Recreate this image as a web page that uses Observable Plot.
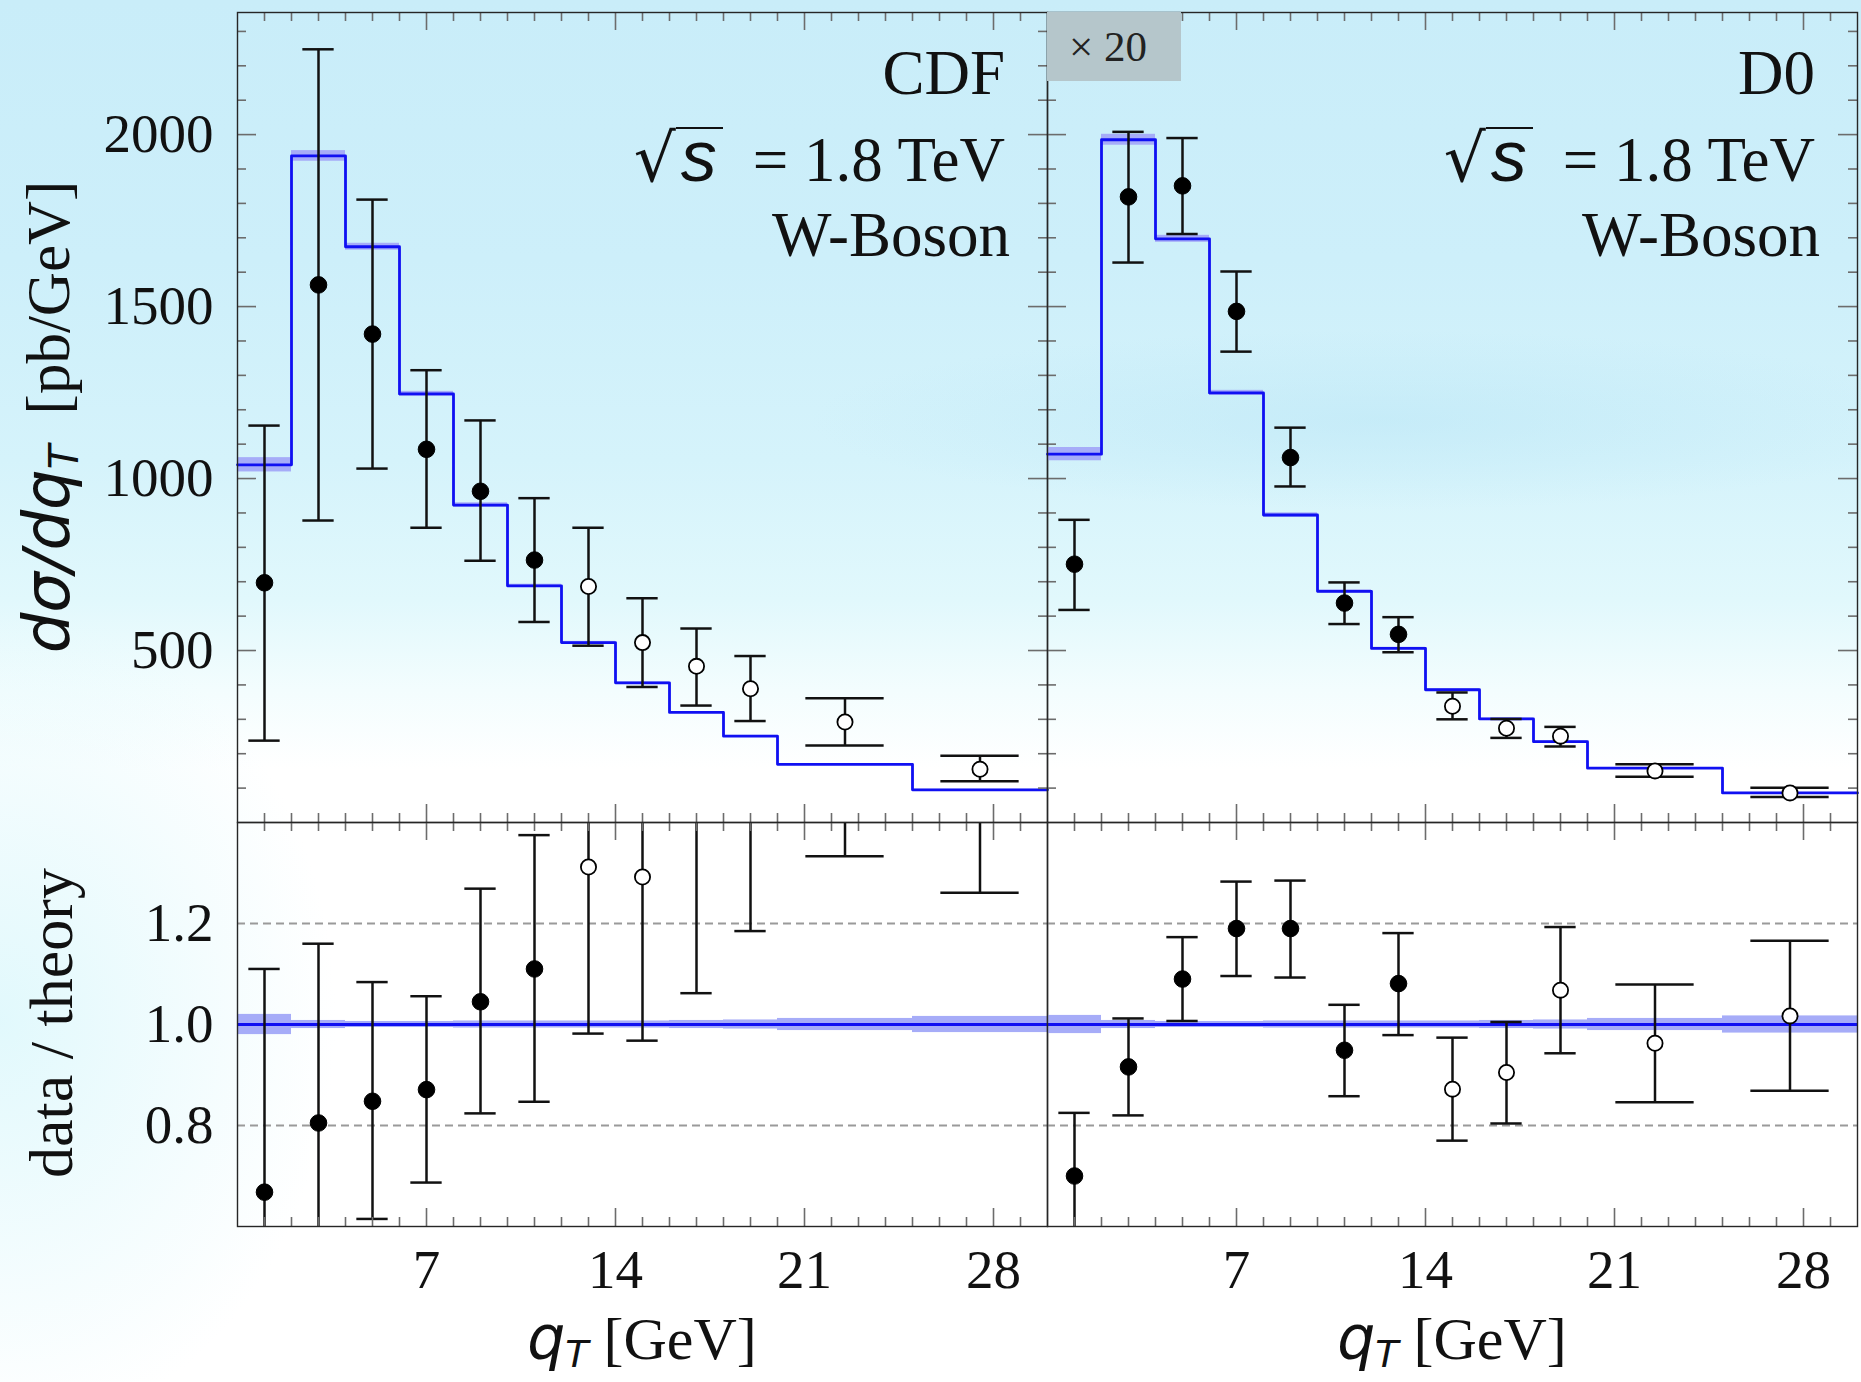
<!DOCTYPE html>
<html><head><meta charset="utf-8">
<script src="https://cdn.jsdelivr.net/npm/d3@7"></script>
<script src="https://cdn.jsdelivr.net/npm/@observablehq/plot@0.6"></script>
<style>
html,body{margin:0;padding:0;background:#fff;}
#page{position:relative;width:1861px;height:1382px;overflow:hidden;
 background:
  radial-gradient(ellipse 760px 120px at 1380px 420px, rgba(182,228,245,0.45), rgba(182,228,245,0) 75%),
  radial-gradient(ellipse 420px 520px at 0px 1020px, rgba(222,248,252,0.9), rgba(222,248,252,0) 80%),
  linear-gradient(180deg, #c9edf9 0px, #cdeffa 260px, #d5f3fb 460px, #e1f8fc 600px, #f3fdfe 690px, #ffffff 770px);}
#page svg{position:absolute;overflow:visible;}
.t{position:absolute;font-family:"Liberation Serif",serif;color:#111;white-space:nowrap;line-height:1;}
.rad{font-family:"DejaVu Sans";font-size:66px;line-height:0;}
.sbar{display:inline-block;font-family:"Liberation Sans";font-style:italic;font-size:72px;line-height:54px;border-top:2.4px solid #111;padding:0 6px 0 5px;margin-right:30px;}
.it{font-family:"DejaVu Sans";font-style:italic;line-height:0;}
.sub{font-family:"DejaVu Sans";font-style:italic;font-size:0.62em;position:relative;top:0.22em;line-height:0;}
</style></head><body><div id="page"></div>
<script>
// ---- bins (q_T in GeV) ----
const binLo = [0, 2, 4, 6, 8, 10, 12, 14, 16, 18, 20, 25];
const binHi = [2, 4, 6, 8, 10, 12, 14, 16, 18, 20, 25, 30];
const qT    = [1, 3, 5, 7, 9, 11, 13, 15, 17, 19, 22.5, 27.5];

// ---- CDF (pb/GeV) ----
const cdfTheory = [1040, 1938, 1674, 1246, 923, 688, 523, 406, 320, 251, 169, 95];
const cdfBand   = [0.020, 0.008, 0.006, 0.006, 0.007, 0.007, 0.007, 0.007, 0.008, 0.009, 0.012, 0.016];
const cdfValue  = [697, 1563, 1420, 1085, 963, 763, 686, 523, 454, 389, 292, 155];
const cdfErrHi  = [1154, 2248, 1811, 1315, 1169, 943, 857, 652, 564, 484, 361, 194];
const cdfErrLo  = [238, 878, 1029, 857, 761, 583, 514, 394, 340, 295, 224, 120];
const cdfOpen   = [0, 0, 0, 0, 0, 0, 1, 1, 1, 1, 1, 1];
const cdfRatio   = [0.668, 0.805, 0.848, 0.871, 1.045, 1.110, 1.312, 1.292, 1.42, 1.55, 1.73, 1.63];
const cdfRatioHi = [1.110, 1.160, 1.084, 1.056, 1.269, 1.375, 1.64, 1.61, 1.76, 1.93, 2.14, 2.04];
const cdfRatioLo = [0.23, 0.45, 0.615, 0.687, 0.824, 0.847, 0.982, 0.968, 1.062, 1.185, 1.333, 1.261];

// ---- D0 (pb/GeV, x 20) ----
const d0Theory = [1071, 1985, 1697, 1249, 894, 672, 506, 386, 301, 235, 158, 86];
const d0Band   = [0.018, 0.008, 0.006, 0.006, 0.007, 0.007, 0.007, 0.007, 0.008, 0.009, 0.012, 0.017];
const d0Value  = [751, 1819, 1851, 1486, 1061, 638, 547, 338, 274, 251, 150, 86];
const d0ErrHi  = [880, 2008, 1990, 1602, 1148, 698, 597, 378, 301, 278, 169, 101];
const d0ErrLo  = [618, 1628, 1711, 1369, 977, 577, 495, 300, 246, 221, 133, 74];
const d0Open   = [0, 0, 0, 0, 0, 0, 0, 1, 1, 1, 1, 1];
const d0Ratio   = [0.700, 0.916, 1.090, 1.190, 1.190, 0.949, 1.081, 0.872, 0.905, 1.068, 0.963, 1.017];
const d0RatioHi = [0.825, 1.012, 1.173, 1.283, 1.285, 1.039, 1.181, 0.974, 1.005, 1.193, 1.079, 1.166];
const d0RatioLo = [0.58, 0.820, 1.007, 1.096, 1.093, 0.858, 0.979, 0.770, 0.804, 0.943, 0.846, 0.869];

// ---- ticks ----
const xTickMajor  = [7, 14, 21, 28];
const xTickLabels = ["7", "14", "21", "28"];
const xTickMinor  = [1,2,3,4,5,6,8,9,10,11,12,13,15,16,17,18,19,20,22,23,24,25,26,27,29];
const yTickMajor  = [500, 1000, 1500, 2000];
const yTickLabels = ["500", "1000", "1500", "2000"];
const yTickMinor  = [100,200,300,400,600,700,800,900,1100,1200,1300,1400,1600,1700,1800,1900,2100,2200,2300];
const rTicks      = [0.8, 1.0, 1.2];
const rTickLabels = ["0.8", "1.0", "1.2"];
const rDashed     = [0.8, 1.2];

const BLUE = "#1010f2", BAND = "#a6acf8", TICK = "#6c6c6c";

function rows(theory, band, value, hi, lo, open) {
  return qT.map((x, i) => ({x, lo: binLo[i], hi: binHi[i], th: theory[i], b: band[i],
    v: value[i], eHi: hi[i], eLo: lo[i], open: !!open[i], cap: 0.29 * (binHi[i] - binLo[i])}));
}

function panel(o) {
  const fw = o.width - o.mL - o.mR, fh = o.height - o.mT - o.mB;
  const d = o.data, marks = [];
  if (o.ratio) {
    marks.push(Plot.rect(d, {x1: "lo", x2: "hi", y1: r => 1 - r.b, y2: r => 1 + r.b, fill: BAND}));
    marks.push(Plot.ruleY(rDashed, {stroke: "#9a9a9a", strokeWidth: 2, strokeDasharray: "8,5"}));
    marks.push(Plot.ruleY([1], {stroke: BLUE, strokeWidth: 2.8}));
  } else {
    marks.push(Plot.rect(d, {x1: "lo", x2: "hi", y1: r => r.th * (1 - r.b), y2: r => r.th * (1 + r.b), fill: BAND}));
    const steps = d.flatMap(r => [{x: r.lo, y: r.th}, {x: r.hi, y: r.th}]);
    marks.push(Plot.line(steps, {x: "x", y: "y", stroke: BLUE, strokeWidth: 2.8}));
  }
  const es = {stroke: "#111", strokeWidth: 2.5, clip: true};
  marks.push(Plot.ruleX(d, {x: "x", y1: "eLo", y2: "eHi", ...es}));
  marks.push(Plot.ruleY(d, {y: "eHi", x1: r => r.x - r.cap, x2: r => r.x + r.cap, ...es}));
  marks.push(Plot.ruleY(d, {y: "eLo", x1: r => r.x - r.cap, x2: r => r.x + r.cap, ...es}));
  marks.push(Plot.dot(d.filter(r => !r.open), {x: "x", y: "v", r: 8.3, fill: "#000", stroke: "#000", strokeWidth: 1, clip: true}));
  marks.push(Plot.dot(d.filter(r => r.open), {x: "x", y: "v", r: 7.6, fill: "#fff", stroke: "#000", strokeWidth: 1.8, clip: true}));
  const s = {stroke: TICK, strokeWidth: 1.6};
  marks.push(Plot.tickX(xTickMinor, {x: v => v, insetBottom: fh - 9, ...s}));
  marks.push(Plot.tickX(xTickMinor, {x: v => v, insetTop: fh - 9, ...s}));
  marks.push(Plot.tickX(xTickMajor, {x: v => v, insetBottom: fh - 18, ...s}));
  marks.push(Plot.tickX(xTickMajor, {x: v => v, insetTop: fh - 18, ...s}));
  if (!o.ratio) {
    marks.push(Plot.tickY(yTickMinor, {y: v => v, insetRight: fw - 9, ...s}));
    marks.push(Plot.tickY(yTickMinor, {y: v => v, insetLeft: fw - 9, ...s}));
    marks.push(Plot.tickY(yTickMajor, {y: v => v, insetRight: fw - 19, ...s}));
    marks.push(Plot.tickY(yTickMajor, {y: v => v, insetLeft: fw - 19, ...s}));
  }
  marks.push(Plot.frame({stroke: "#262626", strokeWidth: 1.4}));
  if (o.showY) {
    const t = o.ratio ? rTicks : yTickMajor, l = o.ratio ? rTickLabels : yTickLabels;
    marks.push(Plot.axisY({ticks: t, tickFormat: v => l[t.indexOf(v)], tickSize: 0, tickPadding: 24, label: null, fontSize: 55}));
  }
  if (o.showX) {
    marks.push(Plot.axisX({ticks: xTickMajor, tickFormat: v => xTickLabels[xTickMajor.indexOf(v)], tickSize: 0, tickPadding: 22, label: null, fontSize: 55}));
  }
  const svg = Plot.plot({
    width: o.width, height: o.height,
    marginLeft: o.mL, marginRight: o.mR, marginTop: o.mT, marginBottom: o.mB,
    x: {domain: [0, 30], ...(o.showX ? {} : {axis: null})},
    y: {domain: o.ratio ? [0.6, 1.4] : [0, 2355], ...(o.showY ? {} : {axis: null})},
    style: {background: "transparent", fontFamily: "Liberation Serif", fontSize: "55px", color: "#111", overflow: "visible"},
    marks
  });
  svg.style.left = o.left + "px";
  svg.style.top = o.top + "px";
  return svg;
}

const page = document.getElementById("page");
const cdfRows = rows(cdfTheory, cdfBand, cdfValue, cdfErrHi, cdfErrLo, cdfOpen);
const d0Rows = rows(d0Theory, d0Band, d0Value, d0ErrHi, d0ErrLo, d0Open);
const cdfR = rows(cdfTheory.map(() => 1), cdfBand, cdfRatio, cdfRatioHi, cdfRatioLo, cdfOpen);
const d0R = rows(d0Theory.map(() => 1), d0Band, d0Ratio, d0RatioHi, d0RatioLo, d0Open);

page.appendChild(panel({left: 0, top: 0, width: 1060, height: 840, mL: 237, mR: 13, mT: 12, mB: 18, data: cdfRows, showY: true}));
page.appendChild(panel({left: 1040, top: 0, width: 821, height: 840, mL: 7, mR: 4, mT: 12, mB: 18, data: d0Rows}));
page.appendChild(panel({left: 0, top: 800, width: 1060, height: 582, mL: 237, mR: 13, mT: 22, mB: 156, data: cdfR, ratio: true, showY: true, showX: true}));
page.appendChild(panel({left: 1040, top: 800, width: 821, height: 582, mL: 7, mR: 4, mT: 22, mB: 156, data: d0R, ratio: true, showX: true}));

// ---- text overlays ----
function addText(html, css) {
  const el = document.createElement("div");
  el.className = "t";
  el.innerHTML = html;
  Object.assign(el.style, css);
  page.appendChild(el);
  return el;
}
const annLines = [["CDF", "D0"], ["sqrt", "sqrt"], ["W-Boson", "W-Boson"]];
const annBase = [95, 180, 257];
const annRight = [1005, 1815];
const annShift = [0, 0, 5];
annLines.forEach((pair, li) => pair.forEach((txt, pi) => {
  const html = txt === "sqrt" ? '<span class="rad">√</span><span class="sbar">s</span>= 1.8 TeV' : txt;
  addText(html, {right: (1861 - annRight[pi] - annShift[li]) + "px", top: (annBase[li] - 53) + "px", fontSize: "63px", textAlign: "right"});
}));
// x 20 box
addText("× 20", {left: "1047px", top: "12px", width: "134px", height: "69px", background: "#b5c6cb", fontSize: "43px", lineHeight: "69px", paddingLeft: "22px", boxSizing: "border-box", color: "#222"});

// y titles (rotated)
function rotTitle(html, cx, cy, fs) {
  return addText(html, {left: cx + "px", top: cy + "px", fontSize: fs + "px", transform: "translate(-50%,-50%) rotate(-90deg)"});
}
rotTitle('<span class="it" style="font-size:64px">dσ/dq</span><span class="sub" style="font-size:40px">T</span>&nbsp;&nbsp;[pb/GeV]', 48, 417, 61);
rotTitle('data / theory', 51, 1023, 62);

// x titles
function xTitle(cx) {
  addText('<span class="it" style="font-size:60px">q</span><span class="sub" style="font-size:38px">T</span> [GeV]', {left: cx + "px", top: (1359 - 50) + "px", fontSize: "60px", transform: "translateX(-50%)"});
}
xTitle(642); xTitle(1452);
</script></body></html>
